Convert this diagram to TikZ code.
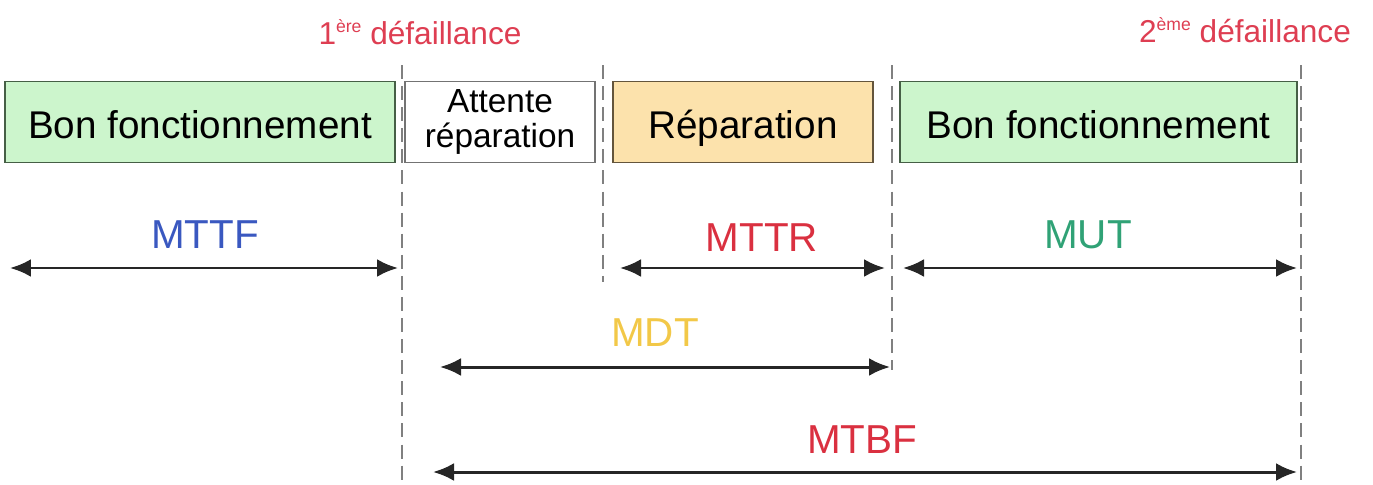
\documentclass[tikz,border=0pt]{standalone}
\usepackage{fontspec}
\setmainfont{Liberation Sans}
\usetikzlibrary{arrows.meta}
\definecolor{vertbon}{RGB}{204,245,204}
\definecolor{bordvert}{RGB}{70,95,70}
\definecolor{orangerep}{RGB}{252,226,172}
\definecolor{bordorange}{RGB}{100,85,60}
\definecolor{rougedef}{RGB}{222,62,82}
\definecolor{bleuMTTF}{RGB}{58,88,192}
\definecolor{rougeMTTR}{RGB}{218,48,64}
\definecolor{vertMUT}{RGB}{48,162,118}
\definecolor{jauneMDT}{RGB}{242,200,72}
\newcommand{\expo}[1]{\raisebox{0.7ex}{\fontsize{10}{10}\selectfont #1}}

\begin{document}
\begin{tikzpicture}[x=0.02cm,y=-0.02cm,
    etat/.style={draw,line width=1.1pt,minimum height=1.62cm,inner sep=0pt,
      text height=19pt,text depth=0pt,
      align=center,font=\fontsize{22}{24}\selectfont},
    duree/.style={font=\fontsize{23}{25}\selectfont},
    evt/.style={text=rougedef,font=\fontsize{18}{20}\selectfont},
    repere/.style={gray,line width=0.8pt,dash pattern=on 8pt off 4pt},
    fleche/.style={{Latex[length=0.42cm,width=0.36cm]}-{Latex[length=0.42cm,width=0.36cm]},
      line width=1.7pt,black!85}]
  \useasboundingbox (0,0) rectangle (1373,484);
  % --- etats ---
  \node[etat,draw=bordvert,fill=vertbon,minimum width=7.8cm] (bon1) at (200,122) {Bon fonctionnement};
  \node[etat,draw=black!55,fill=white,minimum width=3.8cm,text height=,text depth=,
    font=\fontsize{19}{20}\selectfont] (attente) at (500,122) {Attente\\réparation};
  \node[etat,draw=bordorange,fill=orangerep,minimum width=5.2cm] (repar) at (743,122) {Réparation};
  \node[etat,draw=bordvert,fill=vertbon,minimum width=7.94cm] (bon2) at (1098.5,122) {Bon fonctionnement};
  % --- defaillances ---
  \node[evt] (def1) at (420,32) {1\expo{ère} défaillance};
  \node[evt] (def2) at (1245,30) {2\expo{ème} défaillance};
  % --- reperes temporels ---
  \foreach \n/\x/\b in {t1/402/484, t2/603/282, t3/892/370, t4/1301/484}{
    \coordinate (\n h) at (\x,65);
    \coordinate (\n b) at (\x,\b);
    \draw[repere] (\n h) -- (\n b);
  }
  % --- durees ---
  \foreach \n/\xa/\xb/\y/\xl/\yl/\c in {%
      MTTF/10/398/268/205/235/bleuMTTF, MTTR/620/885/268/762/238/rougeMTTR,
      MUT/903/1297/268/1088/235/vertMUT, MDT/440/890/367/655/333/jauneMDT,
      MTBF/433/1297/472/862/440/rougeMTTR}{
    \coordinate (\n g) at (\xa,\y);
    \coordinate (\n d) at (\xb,\y);
    \draw[fleche] (\n g) -- (\n d);
    \node[duree,text=\c] (lab\n) at (\xl,\yl) {\n};
  }
\end{tikzpicture}
\end{document}
